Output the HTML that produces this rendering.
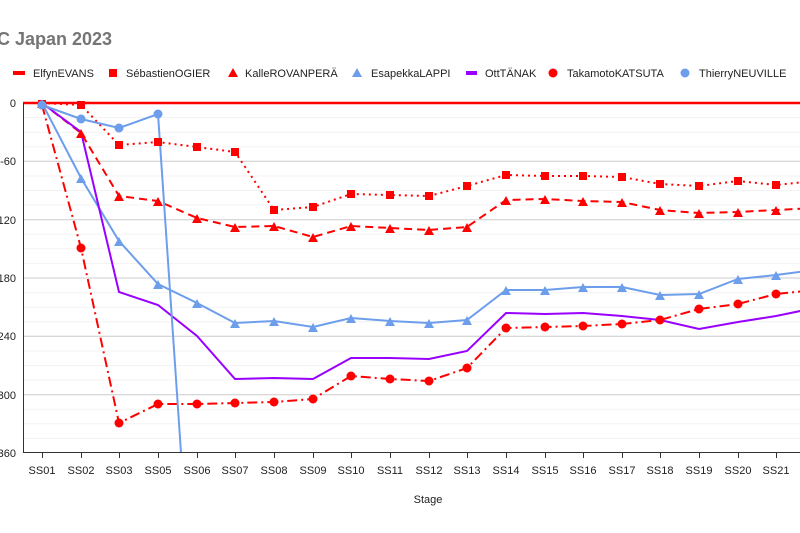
<!DOCTYPE html>
<html><head><meta charset="utf-8"><style>
html,body{margin:0;padding:0;background:#fff;width:800px;height:533px;overflow:hidden}
svg{display:block;font-family:"Liberation Sans",sans-serif}
</style></head><body>
<svg width="800" height="533" viewBox="0 0 800 533">
<defs>
<rect id="sq" x="-4" y="-4" width="8" height="8" fill="#ff0000"/>
<polygon id="trr" points="0,-5 5,4 -5,4" fill="#ff0000"/>
<polygon id="trb" points="0,-5 5,4 -5,4" fill="#6d9eeb"/>
<circle id="cr" r="4.5" fill="#ff0000"/>
<circle id="cb" r="4.5" fill="#6d9eeb"/>
<clipPath id="pc"><rect x="23" y="100" width="777" height="353"/></clipPath>
</defs>
<text x="-3" y="45" font-size="18" font-weight="bold" fill="#757575">C Japan 2023</text>
<g font-size="11" fill="#222">
<rect x="13" y="71" width="12" height="4" fill="#ff0000"/><text x="33" y="77">ElfynEVANS</text>
<use href="#sq" x="113" y="73"/><text x="126" y="77">SébastienOGIER</text>
<use href="#trr" x="233" y="73"/><text x="245" y="77">KalleROVANPERÄ</text>
<use href="#trb" x="357" y="73"/><text x="371" y="77">EsapekkaLAPPI</text>
<rect x="466" y="71" width="11" height="4" fill="#9900ff"/><text x="485" y="77">OttTÄNAK</text>
<use href="#cr" x="553" y="73"/><text x="567" y="77">TakamotoKATSUTA</text>
<use href="#cb" x="685" y="73"/><text x="699" y="77">ThierryNEUVILLE</text>
</g>
<g stroke="#f3f3f3" stroke-width="1">
<line x1="23" x2="800" y1="117.6" y2="117.6"/><line x1="23" x2="800" y1="132.2" y2="132.2"/><line x1="23" x2="800" y1="146.7" y2="146.7"/>
<line x1="23" x2="800" y1="176" y2="176"/><line x1="23" x2="800" y1="190.5" y2="190.5"/><line x1="23" x2="800" y1="205" y2="205"/>
<line x1="23" x2="800" y1="234.2" y2="234.2"/><line x1="23" x2="800" y1="248.8" y2="248.8"/><line x1="23" x2="800" y1="263.4" y2="263.4"/>
<line x1="23" x2="800" y1="292.6" y2="292.6"/><line x1="23" x2="800" y1="307.2" y2="307.2"/><line x1="23" x2="800" y1="321.8" y2="321.8"/>
<line x1="23" x2="800" y1="351" y2="351"/><line x1="23" x2="800" y1="365.5" y2="365.5"/><line x1="23" x2="800" y1="380" y2="380"/>
<line x1="23" x2="800" y1="409.2" y2="409.2"/><line x1="23" x2="800" y1="423.8" y2="423.8"/><line x1="23" x2="800" y1="438.4" y2="438.4"/>
</g>
<g stroke="#cccccc" stroke-width="1">
<line x1="23" x2="800" y1="161.3" y2="161.3"/><line x1="23" x2="800" y1="219.7" y2="219.7"/><line x1="23" x2="800" y1="278" y2="278"/><line x1="23" x2="800" y1="336.3" y2="336.3"/><line x1="23" x2="800" y1="394.7" y2="394.7"/>
</g>
<g font-size="11" fill="#222" text-anchor="end">
<text x="16" y="107">0</text><text x="16" y="165">-60</text><text x="16" y="224">-120</text><text x="16" y="282">-180</text><text x="16" y="340">-240</text><text x="16" y="399">-300</text><text x="16" y="457">-360</text>
</g>
<g clip-path="url(#pc)" fill="none" stroke-width="2">
<polyline stroke="#ff0000" stroke-dasharray="2,4" points="42,103 81,105 119,145 158,142 197,147 235,152 274,210 313,207 351,194 390,195 429,196 467,186 506,175 545,176 583,176 622,177 660,184 699,186 738,181 776,185 815,181"/>
<polyline stroke="#ff0000" stroke-dasharray="8,5" points="42,103 81,133 119,196 158,201 197,218 235,227 274,226 313,237 351,226 390,228 429,230 467,227 506,200 545,199 583,201 622,202 660,210 699,213 738,212 776,210 815,208"/>
<polyline stroke="#6d9eeb" points="42,103 81,178 119,241 158,284 197,303 235,323 274,321 313,327 351,318 390,321 429,323 467,320 506,290 545,290 583,287 622,287 660,295 699,294 738,279 776,275 815,270"/>
<polyline stroke="#9900ff" points="42,103 81,132 119,292 158,305 197,336 235,379 274,378 313,379 351,358 390,358 429,359 467,351 506,313 545,314 583,313 622,316 660,320 699,329 738,322 776,316 815,308"/>
<polyline stroke="#ff0000" stroke-dasharray="10,4,2,4" points="42,105 81,248 119,423 158,404 197,404 235,403 274,402 313,399 351,376 390,379 429,381 467,368 506,328 545,327 583,326 622,324 660,320 699,309 738,304 776,294 815,290"/>
<polyline stroke="#6d9eeb" points="42,105 81,119 119,128 158,114 181.5,460"/>
<line x1="23" x2="800" y1="103" y2="103" stroke="#ff0000" stroke-width="2.5"/>
<g stroke="none">
<use href="#sq" x="42" y="103"/><use href="#sq" x="81" y="105"/><use href="#sq" x="119" y="145"/><use href="#sq" x="158" y="142"/><use href="#sq" x="197" y="147"/><use href="#sq" x="235" y="152"/><use href="#sq" x="274" y="210"/><use href="#sq" x="313" y="207"/><use href="#sq" x="351" y="194"/><use href="#sq" x="390" y="195"/><use href="#sq" x="429" y="196"/><use href="#sq" x="467" y="186"/><use href="#sq" x="506" y="175"/><use href="#sq" x="545" y="176"/><use href="#sq" x="583" y="176"/><use href="#sq" x="622" y="177"/><use href="#sq" x="660" y="184"/><use href="#sq" x="699" y="186"/><use href="#sq" x="738" y="181"/><use href="#sq" x="776" y="185"/><use href="#sq" x="815" y="181"/>
<use href="#trr" x="42" y="104"/><use href="#trr" x="81" y="134"/><use href="#trr" x="119" y="197"/><use href="#trr" x="158" y="202"/><use href="#trr" x="197" y="219"/><use href="#trr" x="235" y="228"/><use href="#trr" x="274" y="227"/><use href="#trr" x="313" y="238"/><use href="#trr" x="351" y="227"/><use href="#trr" x="390" y="229"/><use href="#trr" x="429" y="231"/><use href="#trr" x="467" y="228"/><use href="#trr" x="506" y="201"/><use href="#trr" x="545" y="200"/><use href="#trr" x="583" y="202"/><use href="#trr" x="622" y="203"/><use href="#trr" x="660" y="211"/><use href="#trr" x="699" y="214"/><use href="#trr" x="738" y="213"/><use href="#trr" x="776" y="211"/><use href="#trr" x="815" y="209"/>
<use href="#trb" x="42" y="104"/><use href="#trb" x="81" y="179"/><use href="#trb" x="119" y="242"/><use href="#trb" x="158" y="285"/><use href="#trb" x="197" y="304"/><use href="#trb" x="235" y="324"/><use href="#trb" x="274" y="322"/><use href="#trb" x="313" y="328"/><use href="#trb" x="351" y="319"/><use href="#trb" x="390" y="322"/><use href="#trb" x="429" y="324"/><use href="#trb" x="467" y="321"/><use href="#trb" x="506" y="291"/><use href="#trb" x="545" y="291"/><use href="#trb" x="583" y="288"/><use href="#trb" x="622" y="288"/><use href="#trb" x="660" y="296"/><use href="#trb" x="699" y="295"/><use href="#trb" x="738" y="280"/><use href="#trb" x="776" y="276"/><use href="#trb" x="815" y="271"/>
<use href="#cr" x="42" y="105"/><use href="#cr" x="81" y="248"/><use href="#cr" x="119" y="423"/><use href="#cr" x="158" y="404"/><use href="#cr" x="197" y="404"/><use href="#cr" x="235" y="403"/><use href="#cr" x="274" y="402"/><use href="#cr" x="313" y="399"/><use href="#cr" x="351" y="376"/><use href="#cr" x="390" y="379"/><use href="#cr" x="429" y="381"/><use href="#cr" x="467" y="368"/><use href="#cr" x="506" y="328"/><use href="#cr" x="545" y="327"/><use href="#cr" x="583" y="326"/><use href="#cr" x="622" y="324"/><use href="#cr" x="660" y="320"/><use href="#cr" x="699" y="309"/><use href="#cr" x="738" y="304"/><use href="#cr" x="776" y="294"/><use href="#cr" x="815" y="290"/>
<use href="#cb" x="42" y="105"/><use href="#cb" x="81" y="119"/><use href="#cb" x="119" y="128"/><use href="#cb" x="158" y="114"/>
</g>
</g>
<line x1="23.5" x2="23.5" y1="103" y2="453" stroke="#333" stroke-width="1"/>
<line x1="23" x2="800" y1="452.5" y2="452.5" stroke="#333" stroke-width="1"/>
<g stroke="#333" stroke-width="1">
<line x1="42.5" x2="42.5" y1="453" y2="458"/><line x1="81.5" x2="81.5" y1="453" y2="458"/><line x1="119.5" x2="119.5" y1="453" y2="458"/><line x1="158.5" x2="158.5" y1="453" y2="458"/><line x1="197.5" x2="197.5" y1="453" y2="458"/><line x1="235.5" x2="235.5" y1="453" y2="458"/><line x1="274.5" x2="274.5" y1="453" y2="458"/><line x1="313.5" x2="313.5" y1="453" y2="458"/><line x1="351.5" x2="351.5" y1="453" y2="458"/><line x1="390.5" x2="390.5" y1="453" y2="458"/><line x1="429.5" x2="429.5" y1="453" y2="458"/><line x1="467.5" x2="467.5" y1="453" y2="458"/><line x1="506.5" x2="506.5" y1="453" y2="458"/><line x1="545.5" x2="545.5" y1="453" y2="458"/><line x1="583.5" x2="583.5" y1="453" y2="458"/><line x1="622.5" x2="622.5" y1="453" y2="458"/><line x1="660.5" x2="660.5" y1="453" y2="458"/><line x1="699.5" x2="699.5" y1="453" y2="458"/><line x1="738.5" x2="738.5" y1="453" y2="458"/><line x1="776.5" x2="776.5" y1="453" y2="458"/>
</g>
<g font-size="11" fill="#222" text-anchor="middle">
<text x="42" y="474">SS01</text><text x="81" y="474">SS02</text><text x="119" y="474">SS03</text><text x="158" y="474">SS05</text><text x="197" y="474">SS06</text><text x="235" y="474">SS07</text><text x="274" y="474">SS08</text><text x="313" y="474">SS09</text><text x="351" y="474">SS10</text><text x="390" y="474">SS11</text><text x="429" y="474">SS12</text><text x="467" y="474">SS13</text><text x="506" y="474">SS14</text><text x="545" y="474">SS15</text><text x="583" y="474">SS16</text><text x="622" y="474">SS17</text><text x="660" y="474">SS18</text><text x="699" y="474">SS19</text><text x="738" y="474">SS20</text><text x="776" y="474">SS21</text>
<text x="428" y="503">Stage</text>
</g>
</svg>
</body></html>
